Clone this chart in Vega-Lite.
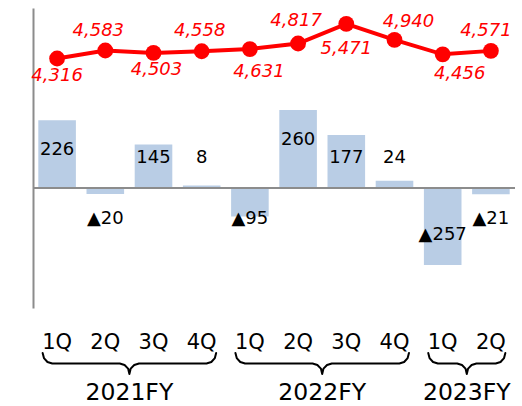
{
  "$schema": "https://vega.github.io/schema/vega-lite/v6.json",
  "width": 482,
  "height": 300,
  "autosize": {"type": "none"},
  "padding": {"left": 33, "top": 8, "right": 7, "bottom": 98},
  "config": {"view": {"stroke": null}, "font": "DejaVu Sans"},
  "datasets": {
    "quarters": [
      {"key": "2021-1Q", "v": 226, "s": 4316},
      {"key": "2021-2Q", "v": -20, "s": 4583},
      {"key": "2021-3Q", "v": 145, "s": 4503},
      {"key": "2021-4Q", "v": 8, "s": 4558},
      {"key": "2022-1Q", "v": -95, "s": 4631},
      {"key": "2022-2Q", "v": 260, "s": 4817},
      {"key": "2022-3Q", "v": 177, "s": 5471},
      {"key": "2022-4Q", "v": 24, "s": 4940},
      {"key": "2023-1Q", "v": -257, "s": 4456},
      {"key": "2023-2Q", "v": -21, "s": 4571}
    ],
    "braces": [
      {"fy": "2021FY", "x": 0.2, "y": -550}, {"fy": "2021FY", "x": 0.227, "y": -567}, {"fy": "2021FY", "x": 0.3, "y": -580}, {"fy": "2021FY", "x": 0.4, "y": -585},
      {"fy": "2021FY", "x": 1.8, "y": -585}, {"fy": "2021FY", "x": 1.9, "y": -590}, {"fy": "2021FY", "x": 1.973, "y": -602}, {"fy": "2021FY", "x": 2.0, "y": -620},
      {"fy": "2021FY", "x": 2.027, "y": -602}, {"fy": "2021FY", "x": 2.1, "y": -590}, {"fy": "2021FY", "x": 2.2, "y": -585},
      {"fy": "2021FY", "x": 3.6, "y": -585}, {"fy": "2021FY", "x": 3.7, "y": -580}, {"fy": "2021FY", "x": 3.773, "y": -567}, {"fy": "2021FY", "x": 3.8, "y": -550},
      {"fy": "2022FY", "x": 4.2, "y": -550}, {"fy": "2022FY", "x": 4.227, "y": -567}, {"fy": "2022FY", "x": 4.3, "y": -580}, {"fy": "2022FY", "x": 4.4, "y": -585},
      {"fy": "2022FY", "x": 5.8, "y": -585}, {"fy": "2022FY", "x": 5.9, "y": -590}, {"fy": "2022FY", "x": 5.973, "y": -602}, {"fy": "2022FY", "x": 6.0, "y": -620},
      {"fy": "2022FY", "x": 6.027, "y": -602}, {"fy": "2022FY", "x": 6.1, "y": -590}, {"fy": "2022FY", "x": 6.2, "y": -585},
      {"fy": "2022FY", "x": 7.6, "y": -585}, {"fy": "2022FY", "x": 7.7, "y": -580}, {"fy": "2022FY", "x": 7.773, "y": -567}, {"fy": "2022FY", "x": 7.8, "y": -550},
      {"fy": "2023FY", "x": 8.2, "y": -550}, {"fy": "2023FY", "x": 8.227, "y": -567}, {"fy": "2023FY", "x": 8.3, "y": -580}, {"fy": "2023FY", "x": 8.4, "y": -585},
      {"fy": "2023FY", "x": 8.8, "y": -585}, {"fy": "2023FY", "x": 8.9, "y": -590}, {"fy": "2023FY", "x": 8.973, "y": -602}, {"fy": "2023FY", "x": 9.0, "y": -620},
      {"fy": "2023FY", "x": 9.027, "y": -602}, {"fy": "2023FY", "x": 9.1, "y": -590}, {"fy": "2023FY", "x": 9.2, "y": -585},
      {"fy": "2023FY", "x": 9.6, "y": -585}, {"fy": "2023FY", "x": 9.7, "y": -580}, {"fy": "2023FY", "x": 9.773, "y": -567}, {"fy": "2023FY", "x": 9.8, "y": -550}
    ],
    "fys": [
      {"fy": "2021FY", "x": 2},
      {"fy": "2022FY", "x": 6},
      {"fy": "2023FY", "x": 9}
    ]
  },
  "data": {"name": "quarters"},
  "layer": [
    {
      "mark": {"type": "bar", "color": "#b9cde5"},
      "encoding": {
        "x": {
          "field": "key", "type": "ordinal", "sort": null,
          "scale": {"paddingInner": 0.22, "paddingOuter": 0.11},
          "axis": {"title": null, "domain": false, "ticks": false, "labelAngle": 0,
                   "labelExpr": "split(datum.label,'-')[1]", "labelFontSize": 21,
                   "labelColor": "#000000", "labelBaseline": "alphabetic", "labelPadding": 40,
                   "labelOverlap": false, "labelFont": "DejaVu Sans"}
        },
        "y": {
          "field": "v", "type": "quantitative",
          "scale": {"domain": [-400, 600], "nice": false, "zero": false},
          "axis": {"title": null, "labels": false, "ticks": false, "grid": false,
                   "domainColor": "#8c8c8c", "domainWidth": 2}
        }
      }
    },
    {
      "data": {"values": [{}]},
      "mark": {"type": "rule", "color": "#8c8c8c", "strokeWidth": 2},
      "encoding": {
        "y": {"datum": 0, "type": "quantitative",
              "scale": {"domain": [-400, 600], "nice": false, "zero": false}, "axis": null}
      }
    },
    {
      "transform": [
        {"calculate": "datum.v >= 0 ? max(datum.v - 100, 100) : min(datum.v + 100, -103)", "as": "lp"},
        {"calculate": "datum.v < 0 ? '▲' + abs(datum.v) : '' + datum.v", "as": "lbl"}
      ],
      "mark": {"type": "text", "fontSize": 18, "color": "#000000", "baseline": "middle"},
      "encoding": {
        "x": {"field": "key", "type": "ordinal", "sort": null, "axis": null},
        "y": {"field": "lp", "type": "quantitative",
              "scale": {"domain": [-400, 600], "nice": false, "zero": false}, "axis": null},
        "text": {"field": "lbl"}
      }
    },
    {
      "mark": {"type": "line", "color": "#ff0000", "strokeWidth": 4},
      "encoding": {
        "x": {"field": "key", "type": "ordinal", "sort": null, "axis": null},
        "y": {"field": "s", "type": "quantitative",
              "scale": {"domain": [-4000, 6000], "nice": false, "zero": false}, "axis": null}
      }
    },
    {
      "mark": {"type": "point", "filled": true, "color": "#ff0000", "size": 250, "opacity": 1},
      "encoding": {
        "x": {"field": "key", "type": "ordinal", "sort": null, "axis": null},
        "y": {"field": "s", "type": "quantitative",
              "scale": {"domain": [-4000, 6000], "nice": false, "zero": false}, "axis": null}
      }
    },
    {
      "transform": [{"filter": "datum.key == '2021-1Q'"}],
      "mark": {"type": "text", "fontSize": 18, "fontStyle": "italic", "color": "#ff0000", "baseline": "middle", "dx": 0, "dy": 17},
      "encoding": {
        "x": {"field": "key", "type": "ordinal", "sort": null, "axis": null,
              "scale": {"domain": ["2021-1Q","2021-2Q","2021-3Q","2021-4Q","2022-1Q","2022-2Q","2022-3Q","2022-4Q","2023-1Q","2023-2Q"]}},
        "y": {"field": "s", "type": "quantitative",
              "scale": {"domain": [-4000, 6000], "nice": false, "zero": false}, "axis": null},
        "text": {"field": "s", "type": "quantitative", "format": ","}
      }
    },
    {
      "transform": [{"filter": "datum.key == '2021-2Q'"}],
      "mark": {"type": "text", "fontSize": 18, "fontStyle": "italic", "color": "#ff0000", "baseline": "middle", "dx": -7, "dy": -20},
      "encoding": {
        "x": {"field": "key", "type": "ordinal", "sort": null, "axis": null,
              "scale": {"domain": ["2021-1Q","2021-2Q","2021-3Q","2021-4Q","2022-1Q","2022-2Q","2022-3Q","2022-4Q","2023-1Q","2023-2Q"]}},
        "y": {"field": "s", "type": "quantitative",
              "scale": {"domain": [-4000, 6000], "nice": false, "zero": false}, "axis": null},
        "text": {"field": "s", "type": "quantitative", "format": ","}
      }
    },
    {
      "transform": [{"filter": "datum.key == '2021-3Q'"}],
      "mark": {"type": "text", "fontSize": 18, "fontStyle": "italic", "color": "#ff0000", "baseline": "middle", "dx": 3, "dy": 17},
      "encoding": {
        "x": {"field": "key", "type": "ordinal", "sort": null, "axis": null,
              "scale": {"domain": ["2021-1Q","2021-2Q","2021-3Q","2021-4Q","2022-1Q","2022-2Q","2022-3Q","2022-4Q","2023-1Q","2023-2Q"]}},
        "y": {"field": "s", "type": "quantitative",
              "scale": {"domain": [-4000, 6000], "nice": false, "zero": false}, "axis": null},
        "text": {"field": "s", "type": "quantitative", "format": ","}
      }
    },
    {
      "transform": [{"filter": "datum.key == '2021-4Q'"}],
      "mark": {"type": "text", "fontSize": 18, "fontStyle": "italic", "color": "#ff0000", "baseline": "middle", "dx": -2, "dy": -20},
      "encoding": {
        "x": {"field": "key", "type": "ordinal", "sort": null, "axis": null,
              "scale": {"domain": ["2021-1Q","2021-2Q","2021-3Q","2021-4Q","2022-1Q","2022-2Q","2022-3Q","2022-4Q","2023-1Q","2023-2Q"]}},
        "y": {"field": "s", "type": "quantitative",
              "scale": {"domain": [-4000, 6000], "nice": false, "zero": false}, "axis": null},
        "text": {"field": "s", "type": "quantitative", "format": ","}
      }
    },
    {
      "transform": [{"filter": "datum.key == '2022-1Q'"}],
      "mark": {"type": "text", "fontSize": 18, "fontStyle": "italic", "color": "#ff0000", "baseline": "middle", "dx": 9, "dy": 23},
      "encoding": {
        "x": {"field": "key", "type": "ordinal", "sort": null, "axis": null,
              "scale": {"domain": ["2021-1Q","2021-2Q","2021-3Q","2021-4Q","2022-1Q","2022-2Q","2022-3Q","2022-4Q","2023-1Q","2023-2Q"]}},
        "y": {"field": "s", "type": "quantitative",
              "scale": {"domain": [-4000, 6000], "nice": false, "zero": false}, "axis": null},
        "text": {"field": "s", "type": "quantitative", "format": ","}
      }
    },
    {
      "transform": [{"filter": "datum.key == '2022-2Q'"}],
      "mark": {"type": "text", "fontSize": 18, "fontStyle": "italic", "color": "#ff0000", "baseline": "middle", "dx": -2, "dy": -22},
      "encoding": {
        "x": {"field": "key", "type": "ordinal", "sort": null, "axis": null,
              "scale": {"domain": ["2021-1Q","2021-2Q","2021-3Q","2021-4Q","2022-1Q","2022-2Q","2022-3Q","2022-4Q","2023-1Q","2023-2Q"]}},
        "y": {"field": "s", "type": "quantitative",
              "scale": {"domain": [-4000, 6000], "nice": false, "zero": false}, "axis": null},
        "text": {"field": "s", "type": "quantitative", "format": ","}
      }
    },
    {
      "transform": [{"filter": "datum.key == '2022-3Q'"}],
      "mark": {"type": "text", "fontSize": 18, "fontStyle": "italic", "color": "#ff0000", "baseline": "middle", "dx": 0, "dy": 25},
      "encoding": {
        "x": {"field": "key", "type": "ordinal", "sort": null, "axis": null,
              "scale": {"domain": ["2021-1Q","2021-2Q","2021-3Q","2021-4Q","2022-1Q","2022-2Q","2022-3Q","2022-4Q","2023-1Q","2023-2Q"]}},
        "y": {"field": "s", "type": "quantitative",
              "scale": {"domain": [-4000, 6000], "nice": false, "zero": false}, "axis": null},
        "text": {"field": "s", "type": "quantitative", "format": ","}
      }
    },
    {
      "transform": [{"filter": "datum.key == '2022-4Q'"}],
      "mark": {"type": "text", "fontSize": 18, "fontStyle": "italic", "color": "#ff0000", "baseline": "middle", "dx": 14, "dy": -18},
      "encoding": {
        "x": {"field": "key", "type": "ordinal", "sort": null, "axis": null,
              "scale": {"domain": ["2021-1Q","2021-2Q","2021-3Q","2021-4Q","2022-1Q","2022-2Q","2022-3Q","2022-4Q","2023-1Q","2023-2Q"]}},
        "y": {"field": "s", "type": "quantitative",
              "scale": {"domain": [-4000, 6000], "nice": false, "zero": false}, "axis": null},
        "text": {"field": "s", "type": "quantitative", "format": ","}
      }
    },
    {
      "transform": [{"filter": "datum.key == '2023-1Q'"}],
      "mark": {"type": "text", "fontSize": 18, "fontStyle": "italic", "color": "#ff0000", "baseline": "middle", "dx": 17, "dy": 20},
      "encoding": {
        "x": {"field": "key", "type": "ordinal", "sort": null, "axis": null,
              "scale": {"domain": ["2021-1Q","2021-2Q","2021-3Q","2021-4Q","2022-1Q","2022-2Q","2022-3Q","2022-4Q","2023-1Q","2023-2Q"]}},
        "y": {"field": "s", "type": "quantitative",
              "scale": {"domain": [-4000, 6000], "nice": false, "zero": false}, "axis": null},
        "text": {"field": "s", "type": "quantitative", "format": ","}
      }
    },
    {
      "transform": [{"filter": "datum.key == '2023-2Q'"}],
      "mark": {"type": "text", "fontSize": 18, "fontStyle": "italic", "color": "#ff0000", "baseline": "middle", "dx": -5, "dy": -20},
      "encoding": {
        "x": {"field": "key", "type": "ordinal", "sort": null, "axis": null,
              "scale": {"domain": ["2021-1Q","2021-2Q","2021-3Q","2021-4Q","2022-1Q","2022-2Q","2022-3Q","2022-4Q","2023-1Q","2023-2Q"]}},
        "y": {"field": "s", "type": "quantitative",
              "scale": {"domain": [-4000, 6000], "nice": false, "zero": false}, "axis": null},
        "text": {"field": "s", "type": "quantitative", "format": ","}
      }
    },
    {
      "data": {"name": "braces"},
      "mark": {"type": "line", "color": "#000000", "strokeWidth": 2, "strokeJoin": "round", "strokeCap": "round"},
      "encoding": {
        "x": {"field": "x", "type": "quantitative",
              "scale": {"domain": [0, 10], "nice": false, "zero": false}, "axis": null},
        "y": {"field": "y", "type": "quantitative",
              "scale": {"domain": [-400, 600], "nice": false, "zero": false}, "axis": null},
        "detail": {"field": "fy"}
      }
    },
    {
      "data": {"name": "fys"},
      "mark": {"type": "text", "fontSize": 23.5, "color": "#000000", "baseline": "alphabetic"},
      "encoding": {
        "x": {"field": "x", "type": "quantitative",
              "scale": {"domain": [0, 10], "nice": false, "zero": false}, "axis": null},
        "y": {"datum": -707, "type": "quantitative",
              "scale": {"domain": [-400, 600], "nice": false, "zero": false}, "axis": null},
        "text": {"field": "fy"}
      }
    }
  ],
  "resolve": {"scale": {"x": "independent", "y": "independent"}}
}
